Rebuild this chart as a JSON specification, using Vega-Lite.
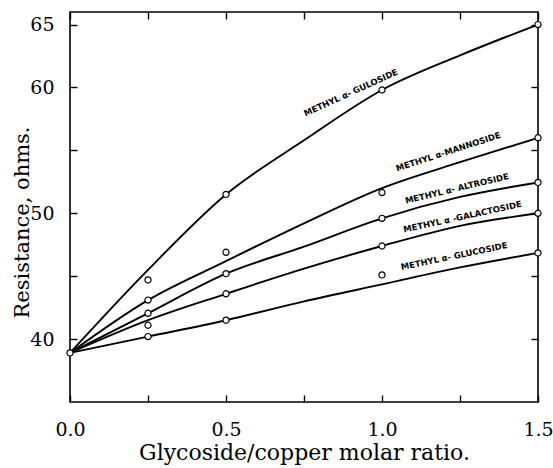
{
  "$schema": "https://vega.github.io/schema/vega-lite/v6.json",
  "width": 468,
  "height": 390,
  "autosize": {"type": "none"},
  "padding": {"left": 70, "top": 12, "right": 15, "bottom": 66},
  "background": "white",
  "config": {
    "view": {"stroke": "black", "strokeWidth": 1.6},
    "axis": {"domain": false, "grid": false, "tickColor": "black", "tickWidth": 1.4, "labelColor": "black", "titleColor": "black", "labelFont": "DejaVu Serif", "titleFont": "DejaVu Serif", "titleFontWeight": "normal"}
  },
  "datasets": {
    "curves": [
      {"series": "gulo", "x": 0, "y": 38.9}, {"series": "gulo", "x": 0.25, "y": 45.5}, {"series": "gulo", "x": 0.5, "y": 51.5}, {"series": "gulo", "x": 0.75, "y": 55.8}, {"series": "gulo", "x": 1.0, "y": 59.8}, {"series": "gulo", "x": 1.25, "y": 62.55}, {"series": "gulo", "x": 1.5, "y": 65.0},
      {"series": "manno", "x": 0, "y": 38.9}, {"series": "manno", "x": 0.25, "y": 43.1}, {"series": "manno", "x": 0.5, "y": 46.2}, {"series": "manno", "x": 0.75, "y": 49.2}, {"series": "manno", "x": 1.0, "y": 52.0}, {"series": "manno", "x": 1.25, "y": 54.06}, {"series": "manno", "x": 1.5, "y": 56.0},
      {"series": "altro", "x": 0, "y": 38.9}, {"series": "altro", "x": 0.25, "y": 42.05}, {"series": "altro", "x": 0.5, "y": 45.2}, {"series": "altro", "x": 0.75, "y": 47.35}, {"series": "altro", "x": 1.0, "y": 49.6}, {"series": "altro", "x": 1.25, "y": 51.3}, {"series": "altro", "x": 1.5, "y": 52.45},
      {"series": "galacto", "x": 0, "y": 38.9}, {"series": "galacto", "x": 0.25, "y": 41.5}, {"series": "galacto", "x": 0.5, "y": 43.6}, {"series": "galacto", "x": 0.75, "y": 45.6}, {"series": "galacto", "x": 1.0, "y": 47.4}, {"series": "galacto", "x": 1.25, "y": 49.0}, {"series": "galacto", "x": 1.5, "y": 50.0},
      {"series": "gluco", "x": 0, "y": 38.9}, {"series": "gluco", "x": 0.25, "y": 40.2}, {"series": "gluco", "x": 0.5, "y": 41.5}, {"series": "gluco", "x": 0.75, "y": 43.0}, {"series": "gluco", "x": 1.0, "y": 44.35}, {"series": "gluco", "x": 1.25, "y": 45.7}, {"series": "gluco", "x": 1.5, "y": 46.85}
    ],
    "observed": [
      {"series": "all", "x": 0, "y": 38.9},
      {"series": "gulo", "x": 0.25, "y": 44.7}, {"series": "gulo", "x": 0.5, "y": 51.5}, {"series": "gulo", "x": 1.0, "y": 59.8}, {"series": "gulo", "x": 1.5, "y": 65.0},
      {"series": "manno", "x": 0.25, "y": 43.1}, {"series": "manno", "x": 0.5, "y": 46.9}, {"series": "manno", "x": 1.0, "y": 51.65}, {"series": "manno", "x": 1.5, "y": 56.0},
      {"series": "altro", "x": 0.25, "y": 42.05}, {"series": "altro", "x": 0.5, "y": 45.2}, {"series": "altro", "x": 1.0, "y": 49.6}, {"series": "altro", "x": 1.5, "y": 52.45},
      {"series": "galacto", "x": 0.25, "y": 41.1}, {"series": "galacto", "x": 0.5, "y": 43.6}, {"series": "galacto", "x": 1.0, "y": 47.4}, {"series": "galacto", "x": 1.5, "y": 50.0},
      {"series": "gluco", "x": 0.25, "y": 40.2}, {"series": "gluco", "x": 0.5, "y": 41.5}, {"series": "gluco", "x": 1.0, "y": 45.1}, {"series": "gluco", "x": 1.5, "y": 46.85}
    ],
    "labels": [
      {"series": "gulo", "label": "METHYL α- GULOSIDE", "x": 0.9, "y": 59.6},
      {"series": "manno", "label": "METHYL α-MANNOSIDE", "x": 1.212, "y": 54.9},
      {"series": "altro", "label": "METHYL α- ALTROSIDE", "x": 1.24, "y": 51.98},
      {"series": "galacto", "label": "METHYL α -GALACTOSIDE", "x": 1.258, "y": 49.73},
      {"series": "gluco", "label": "METHYL α- GLUCOSIDE", "x": 1.231, "y": 46.6}
    ]
  },
  "resolve": {"axis": {"x": "independent", "y": "independent"}},
  "layer": [
    {
      "data": {"name": "curves"},
      "mark": {"type": "line", "interpolate": "monotone", "color": "black", "strokeWidth": 1.9},
      "encoding": {
        "x": {"field": "x", "type": "quantitative", "scale": {"domain": [0, 1.5], "nice": false},
          "axis": {"orient": "bottom", "values": [0, 0.25, 0.5, 0.75, 1.0, 1.25, 1.5], "labelExpr": "datum.value == 0.25 || datum.value == 0.75 || datum.value == 1.25 ? '' : format(datum.value, '.1f')", "offset": -7, "tickSize": 7, "labelPadding": 18, "labelFontSize": 19, "title": "Glycoside/copper molar ratio.", "titleFontSize": 22, "titlePadding": 3, "labelFlush": false}},
        "y": {"field": "y", "type": "quantitative", "scale": {"domain": [35, 66], "nice": false, "zero": false},
          "axis": {"orient": "left", "values": [40, 45, 50, 55, 60, 65], "labelExpr": "datum.value == 45 || datum.value == 55 ? '' : datum.value", "offset": -7, "tickSize": 7, "labelPadding": 16, "labelFontSize": 19, "title": "Resistance, ohms.", "titleFontSize": 21, "titlePadding": -3, "titleY": 210, "labelFlush": false}},
        "detail": {"field": "series"}
      }
    },
    {
      "data": {"name": "observed"},
      "mark": {"type": "point", "shape": "circle", "filled": true, "fill": "white", "stroke": "black", "strokeWidth": 1.2, "size": 38, "opacity": 1},
      "encoding": {
        "x": {"field": "x", "type": "quantitative",
          "axis": {"orient": "top", "values": [0, 0.25, 0.5, 0.75, 1.0, 1.25, 1.5], "labels": false, "offset": -7, "tickSize": 7, "title": null}},
        "y": {"field": "y", "type": "quantitative",
          "axis": {"orient": "right", "values": [40, 45, 50, 55, 60, 65], "labels": false, "offset": -7, "tickSize": 7, "title": null}}
      }
    },
    {
      "data": {"name": "labels"},
      "transform": [{"filter": "datum.series == 'gulo'"}],
      "mark": {"type": "text", "angle": -24.5, "font": "DejaVu Sans", "fontWeight": "bold", "fontSize": 8.5, "color": "black"},
      "encoding": {"x": {"field": "x", "type": "quantitative", "axis": null}, "y": {"field": "y", "type": "quantitative", "axis": null}, "text": {"field": "label"}}
    },
    {
      "data": {"name": "labels"},
      "transform": [{"filter": "datum.series == 'manno'"}],
      "mark": {"type": "text", "angle": -18, "font": "DejaVu Sans", "fontWeight": "bold", "fontSize": 8.5, "color": "black"},
      "encoding": {"x": {"field": "x", "type": "quantitative", "axis": null}, "y": {"field": "y", "type": "quantitative", "axis": null}, "text": {"field": "label"}}
    },
    {
      "data": {"name": "labels"},
      "transform": [{"filter": "datum.series == 'altro'"}],
      "mark": {"type": "text", "angle": -13.5, "font": "DejaVu Sans", "fontWeight": "bold", "fontSize": 8.5, "color": "black"},
      "encoding": {"x": {"field": "x", "type": "quantitative", "axis": null}, "y": {"field": "y", "type": "quantitative", "axis": null}, "text": {"field": "label"}}
    },
    {
      "data": {"name": "labels"},
      "transform": [{"filter": "datum.series == 'galacto'"}],
      "mark": {"type": "text", "angle": -12.4, "font": "DejaVu Sans", "fontWeight": "bold", "fontSize": 8.5, "color": "black"},
      "encoding": {"x": {"field": "x", "type": "quantitative", "axis": null}, "y": {"field": "y", "type": "quantitative", "axis": null}, "text": {"field": "label"}}
    },
    {
      "data": {"name": "labels"},
      "transform": [{"filter": "datum.series == 'gluco'"}],
      "mark": {"type": "text", "angle": -11.8, "font": "DejaVu Sans", "fontWeight": "bold", "fontSize": 8.5, "color": "black"},
      "encoding": {"x": {"field": "x", "type": "quantitative", "axis": null}, "y": {"field": "y", "type": "quantitative", "axis": null}, "text": {"field": "label"}}
    }
  ]
}
